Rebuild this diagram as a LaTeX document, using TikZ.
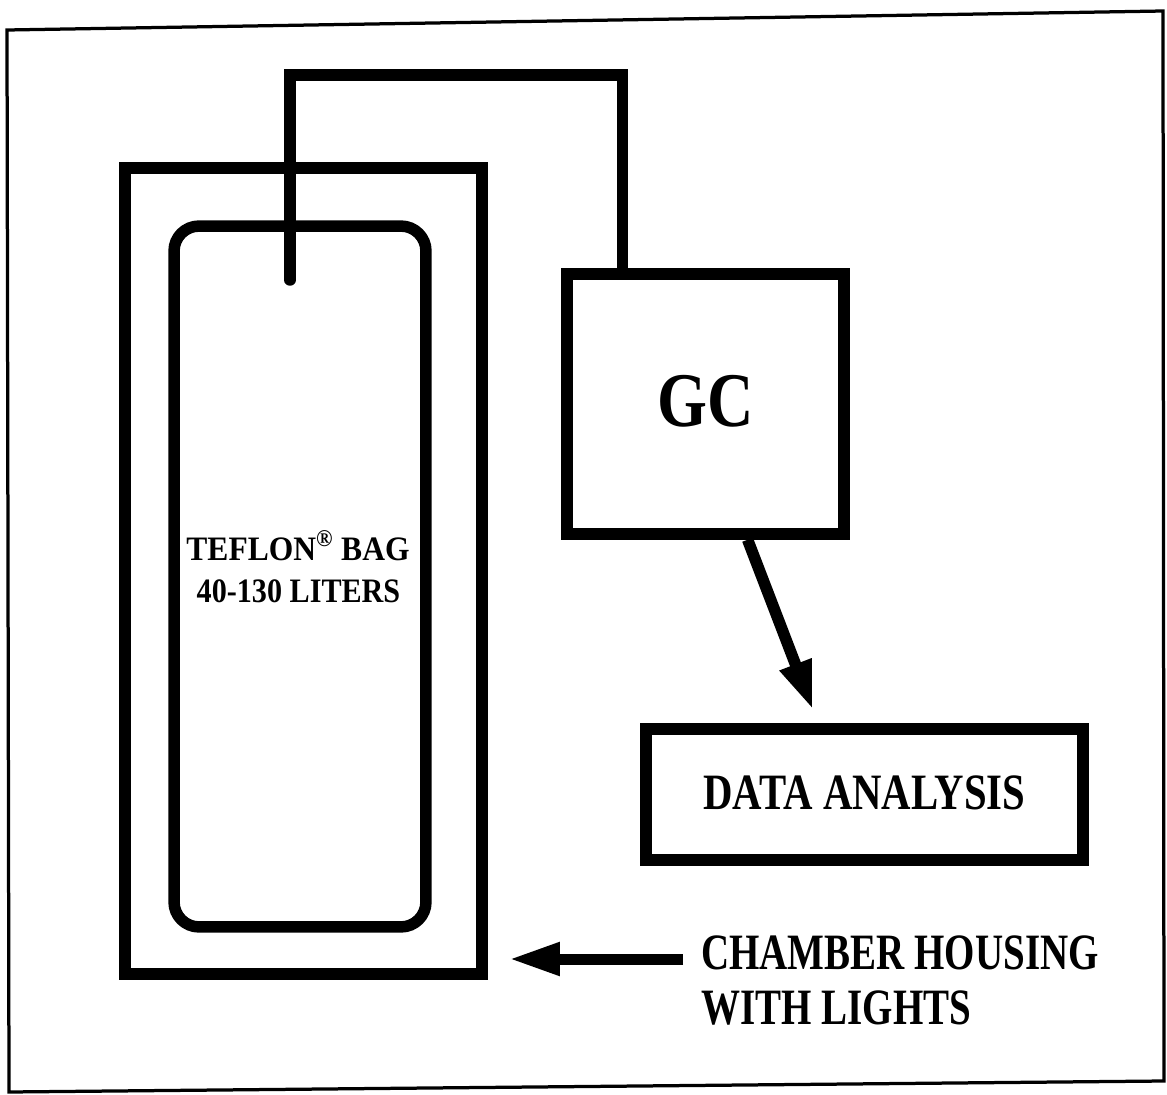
\documentclass[tikz,border=0pt]{standalone}
\usepackage{fontspec}
\setmainfont{Liberation Serif}
\usepackage{graphicx}
\usetikzlibrary{arrows.meta,calc}
\begin{document}
\begin{tikzpicture}[x=0.02cm,y=-0.02cm,
  heavy/.style={line width=0.23cm},
  box/.style={draw,heavy,inner sep=0pt,rectangle},
  lab/.style={inner sep=0pt},
  bigtip/.style={-{Triangle[length=0.98cm,width=0.62cm]}}]
\useasboundingbox (0,0) rectangle (1167,1095);
% outer frame
\draw[line width=0.065cm, line join=miter] (7,30) -- (1163,11) -- (1164,1081) -- (9,1092) -- cycle;
% chamber housing and bag
\node[box, minimum width=7.14cm, minimum height=16.12cm] (housing) at (303.5,571) {};
\node[box, rounded corners=0.5cm, minimum width=5.04cm, minimum height=14.02cm] (bag) at (300,576.5) {};
% GC and data analysis
\node[box, minimum width=5.54cm, minimum height=5.2cm,
      font=\fontsize{44}{52}\selectfont\bfseries] (gc) at (705.5,404) {\raisebox{0.12cm}{\scalebox{0.83}[1]{GC}}};
\node[box, minimum width=8.74cm, minimum height=2.62cm,
      font=\fontsize{29}{34}\selectfont\bfseries] (data) at (864.5,794.5) {\raisebox{0.08cm}{\scalebox{0.8}[1]{DATA ANALYSIS}}};
% tube from bag to GC
\coordinate (tubeend) at (290,280);
\coordinate (gcin) at ($(gc.north west)!0.213!(gc.north east)$);
\draw[heavy, line cap=round] (tubeend) -- ++(0,-205) -| (gcin);
% GC -> data analysis arrow
\coordinate (gctip) at (813,710);
\draw[heavy, bigtip] ($(gc.south west)!0.646!(gc.south east)$) -- (gctip);
% bag labels
\node[lab, anchor=base, font=\fontsize{19.5}{23}\selectfont\bfseries] (bag1) at (298,560)
  {\scalebox{0.92}[1]{TEFLON\textsuperscript{®} BAG}};
\node[lab, anchor=base, font=\fontsize{19.5}{23}\selectfont\bfseries] (bag2) at (298.5,602)
  {\scalebox{0.88}[1]{40-130 LITERS}};
% chamber housing label and arrow
\node[lab, anchor=base west, font=\fontsize{29}{34}\selectfont\bfseries] (ch1) at (701,969)
  {\scalebox{0.765}[1]{CHAMBER HOUSING}};
\node[lab, anchor=base west, font=\fontsize{29}{34}\selectfont\bfseries] (ch2) at (701,1024)
  {\scalebox{0.765}[1]{WITH LIGHTS}};
\coordinate (chtail) at (683,959);
\coordinate (chtip) at (509,959);
\draw[line width=0.22cm, -{Triangle[length=1.02cm,width=0.62cm]}] (chtail) -- (chtip);
\end{tikzpicture}
\end{document}
